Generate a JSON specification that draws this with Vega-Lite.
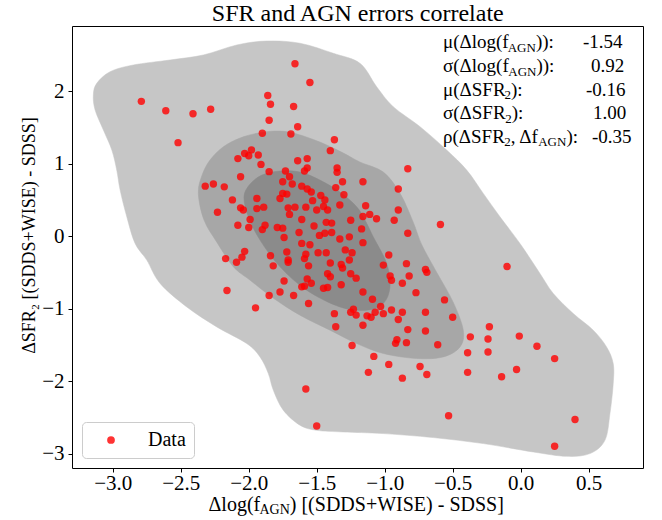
{
"$schema": "https://vega.github.io/schema/vega-lite/v6.json",
"width": 571, "height": 442,
"autosize": {"type": "none"},
"padding": {"left": 72, "top": 26, "right": 19, "bottom": 52},
"background": "white",
"config": {
  "font": "Liberation Serif",
  "view": {"stroke": "black", "strokeWidth": 1},
  "axis": {"grid": false, "domain": false, "tickColor": "black", "tickSize": 4, "tickWidth": 1, "labelFontSize": 21, "labelColor": "black", "labelFont": "Liberation Serif", "titleFont": "Liberation Serif", "titleFontWeight": "normal", "titleColor": "black"},
  "axisX": {"labelPadding": 0},
  "axisY": {"labelPadding": 4}
},
"datasets": {
  "contours": [
    {"level":1,"i":0,"x":-3.143,"y":1.948},{"level":1,"i":1,"x":-3.118,"y":2.109},{"level":1,"i":2,"x":-3.020,"y":2.269},{"level":1,"i":3,"x":-2.849,"y":2.362},{"level":1,"i":4,"x":-2.579,"y":2.431},{"level":1,"i":5,"x":-2.334,"y":2.500},{"level":1,"i":6,"x":-2.088,"y":2.638},{"level":1,"i":7,"x":-1.868,"y":2.693},{"level":1,"i":8,"x":-1.623,"y":2.662},{"level":1,"i":9,"x":-1.378,"y":2.523},{"level":1,"i":10,"x":-1.182,"y":2.385},{"level":1,"i":11,"x":-1.059,"y":2.062},{"level":1,"i":12,"x":-0.937,"y":1.786},{"level":1,"i":13,"x":-0.740,"y":1.510},{"level":1,"i":14,"x":-0.544,"y":1.188},{"level":1,"i":15,"x":-0.397,"y":0.912},{"level":1,"i":16,"x":-0.275,"y":0.590},{"level":1,"i":17,"x":-0.152,"y":0.267},{"level":1,"i":18,"x":-0.005,"y":-0.101},{"level":1,"i":19,"x":0.142,"y":-0.515},{"level":1,"i":20,"x":0.240,"y":-0.791},{"level":1,"i":21,"x":0.387,"y":-1.068},{"level":1,"i":22,"x":0.534,"y":-1.298},{"level":1,"i":23,"x":0.632,"y":-1.529},{"level":1,"i":24,"x":0.681,"y":-1.758},{"level":1,"i":25,"x":0.681,"y":-2.035},{"level":1,"i":26,"x":0.657,"y":-2.449},{"level":1,"i":27,"x":0.620,"y":-2.818},{"level":1,"i":28,"x":0.510,"y":-3.001},{"level":1,"i":29,"x":0.338,"y":-3.039},{"level":1,"i":30,"x":0.093,"y":-2.979},{"level":1,"i":31,"x":-0.275,"y":-2.863},{"level":1,"i":32,"x":-0.643,"y":-2.780},{"level":1,"i":33,"x":-1.010,"y":-2.725},{"level":1,"i":34,"x":-1.304,"y":-2.703},{"level":1,"i":35,"x":-1.500,"y":-2.680},{"level":1,"i":36,"x":-1.623,"y":-2.610},{"level":1,"i":37,"x":-1.746,"y":-2.403},{"level":1,"i":38,"x":-1.819,"y":-2.127},{"level":1,"i":39,"x":-1.856,"y":-1.896},{"level":1,"i":40,"x":-1.917,"y":-1.667},{"level":1,"i":41,"x":-2.015,"y":-1.482},{"level":1,"i":42,"x":-2.235,"y":-1.253},{"level":1,"i":43,"x":-2.456,"y":-0.977},{"level":1,"i":44,"x":-2.652,"y":-0.653},{"level":1,"i":45,"x":-2.750,"y":-0.331},{"level":1,"i":46,"x":-2.836,"y":-0.101},{"level":1,"i":47,"x":-2.897,"y":0.267},{"level":1,"i":48,"x":-2.946,"y":0.635},{"level":1,"i":49,"x":-2.971,"y":0.912},{"level":1,"i":50,"x":-3.007,"y":1.188},{"level":1,"i":51,"x":-3.069,"y":1.464},{"level":1,"i":52,"x":-3.130,"y":1.740},
    {"level":2,"i":0,"x":-2.371,"y":0.590},{"level":2,"i":1,"x":-2.343,"y":0.843},{"level":2,"i":2,"x":-2.285,"y":1.050},{"level":2,"i":3,"x":-2.187,"y":1.233},{"level":2,"i":4,"x":-2.064,"y":1.354},{"level":2,"i":5,"x":-1.941,"y":1.419},{"level":2,"i":6,"x":-1.807,"y":1.450},{"level":2,"i":7,"x":-1.672,"y":1.423},{"level":2,"i":8,"x":-1.476,"y":1.298},{"level":2,"i":9,"x":-1.304,"y":1.146},{"level":2,"i":10,"x":-1.182,"y":1.022},{"level":2,"i":11,"x":-1.010,"y":0.884},{"level":2,"i":12,"x":-0.888,"y":0.594},{"level":2,"i":13,"x":-0.790,"y":0.193},{"level":2,"i":14,"x":-0.726,"y":-0.124},{"level":2,"i":15,"x":-0.618,"y":-0.497},{"level":2,"i":16,"x":-0.496,"y":-0.912},{"level":2,"i":17,"x":-0.422,"y":-1.298},{"level":2,"i":18,"x":-0.446,"y":-1.529},{"level":2,"i":19,"x":-0.569,"y":-1.667},{"level":2,"i":20,"x":-0.765,"y":-1.689},{"level":2,"i":21,"x":-1.010,"y":-1.620},{"level":2,"i":22,"x":-1.206,"y":-1.482},{"level":2,"i":23,"x":-1.402,"y":-1.298},{"level":2,"i":24,"x":-1.623,"y":-1.091},{"level":2,"i":25,"x":-1.819,"y":-0.856},{"level":2,"i":26,"x":-1.990,"y":-0.608},{"level":2,"i":27,"x":-2.113,"y":-0.424},{"level":2,"i":28,"x":-2.235,"y":-0.083},{"level":2,"i":29,"x":-2.329,"y":0.221},
    {"level":3,"i":0,"x":-2.035,"y":0.543},{"level":3,"i":1,"x":-1.990,"y":0.718},{"level":3,"i":2,"x":-1.902,"y":0.843},{"level":3,"i":3,"x":-1.770,"y":0.898},{"level":3,"i":4,"x":-1.623,"y":0.884},{"level":3,"i":5,"x":-1.476,"y":0.773},{"level":3,"i":6,"x":-1.329,"y":0.608},{"level":3,"i":7,"x":-1.206,"y":0.405},{"level":3,"i":8,"x":-1.145,"y":0.221},{"level":3,"i":9,"x":-1.084,"y":-0.010},{"level":3,"i":10,"x":-0.985,"y":-0.377},{"level":3,"i":11,"x":-0.961,"y":-0.700},{"level":3,"i":12,"x":-1.010,"y":-0.930},{"level":3,"i":13,"x":-1.132,"y":-1.022},{"level":3,"i":14,"x":-1.329,"y":-0.977},{"level":3,"i":15,"x":-1.574,"y":-0.746},{"level":3,"i":16,"x":-1.770,"y":-0.424},{"level":3,"i":17,"x":-1.917,"y":-0.055},{"level":3,"i":18,"x":-2.003,"y":0.267}
  ],
  "points": [
    {"x":-1.85,"y":1.60},{"x":-1.64,"y":1.51},{"x":-1.90,"y":1.42},{"x":-1.69,"y":1.41},{"x":-1.37,"y":1.33},{"x":-1.40,"y":1.18},{"x":-2.03,"y":1.14},{"x":-1.98,"y":1.19},{"x":-2.00,"y":1.11},{"x":-1.93,"y":1.12},
    {"x":-2.08,"y":1.07},{"x":-1.64,"y":1.04},{"x":-1.57,"y":1.07},{"x":-1.91,"y":0.99},{"x":-1.85,"y":0.89},{"x":-1.73,"y":0.90},{"x":-1.57,"y":0.94},{"x":-1.59,"y":0.90},{"x":-1.35,"y":0.94},{"x":-1.35,"y":0.88},
    {"x":-1.70,"y":0.82},{"x":-2.06,"y":0.82},{"x":-2.32,"y":0.69},{"x":-2.26,"y":0.72},{"x":-2.18,"y":0.68},{"x":-1.31,"y":0.75},{"x":-1.16,"y":0.75},{"x":-1.75,"y":0.75},{"x":-1.68,"y":0.72},{"x":-1.61,"y":0.69},
    {"x":-1.57,"y":0.65},{"x":-1.36,"y":0.67},{"x":-0.90,"y":0.65},{"x":-1.75,"y":0.59},{"x":-1.72,"y":0.58},{"x":-1.54,"y":0.61},{"x":-1.47,"y":0.56},{"x":-1.30,"y":0.57},{"x":-2.12,"y":0.50},{"x":-1.94,"y":0.52},
    {"x":-1.77,"y":0.52},{"x":-1.53,"y":0.49},{"x":-1.44,"y":0.50},{"x":-2.06,"y":0.39},{"x":-2.04,"y":0.36},{"x":-1.94,"y":0.38},{"x":-1.89,"y":0.40},{"x":-1.71,"y":0.39},{"x":-1.66,"y":0.40},{"x":-1.58,"y":0.40},
    {"x":-1.50,"y":0.36},{"x":-1.45,"y":0.41},{"x":-1.42,"y":0.36},{"x":-1.33,"y":0.43},{"x":-1.14,"y":0.42},{"x":-0.90,"y":0.36},{"x":-2.23,"y":0.33},{"x":-1.70,"y":0.30},{"x":-1.99,"y":0.23},{"x":-2.00,"y":0.12},
    {"x":-2.08,"y":0.15},{"x":-1.88,"y":0.15},{"x":-1.90,"y":0.09},{"x":-1.79,"y":0.12},{"x":-1.75,"y":0.11},{"x":-1.61,"y":0.23},{"x":-1.52,"y":0.14},{"x":-1.43,"y":0.19},{"x":-1.39,"y":0.18},{"x":-1.25,"y":0.22},
    {"x":-1.16,"y":0.27},{"x":-1.11,"y":0.30},{"x":-1.06,"y":0.24},{"x":-0.93,"y":0.22},{"x":-0.59,"y":0.16},{"x":-1.17,"y":0.10},{"x":-1.63,"y":0.05},{"x":-1.48,"y":0.01},{"x":-1.44,"y":0.04},{"x":-1.39,"y":0.05},
    {"x":-1.33,"y":-0.04},{"x":-1.26,"y":-0.01},{"x":-1.16,"y":-0.09},{"x":-0.83,"y":0.04},{"x":-1.74,"y":-0.02},{"x":-1.61,"y":-0.10},{"x":-1.55,"y":-0.12},{"x":-1.49,"y":-0.23},{"x":-1.43,"y":-0.23},{"x":-1.58,"y":-0.25},
    {"x":-1.29,"y":-0.19},{"x":-1.24,"y":-0.23},{"x":-2.17,"y":-0.31},{"x":-2.09,"y":-0.36},{"x":-2.05,"y":-0.29},{"x":-2.03,"y":-0.21},{"x":-1.84,"y":-0.27},{"x":-0.97,"y":-0.26},{"x":-1.82,"y":-0.41},{"x":-1.71,"y":-0.33},
    {"x":-1.71,"y":-0.36},{"x":-1.59,"y":-0.31},{"x":-1.56,"y":-0.41},{"x":-1.40,"y":-0.37},{"x":-1.32,"y":-0.39},{"x":-1.31,"y":-0.44},{"x":-1.26,"y":-0.33},{"x":-1.01,"y":-0.40},{"x":-0.84,"y":-0.38},{"x":-0.70,"y":-0.46},
    {"x":-0.69,"y":-0.50},{"x":-1.74,"y":-0.62},{"x":-1.61,"y":-0.70},{"x":-1.59,"y":-0.69},{"x":-1.57,"y":-0.59},{"x":-1.54,"y":-0.65},{"x":-1.42,"y":-0.52},{"x":-1.40,"y":-0.56},{"x":-1.32,"y":-0.67},{"x":-1.25,"y":-0.52},
    {"x":-1.21,"y":-0.58},{"x":-1.45,"y":-0.72},{"x":-1.42,"y":-0.71},{"x":-1.16,"y":-0.77},{"x":-1.09,"y":-0.87},{"x":-0.96,"y":-0.55},{"x":-0.95,"y":-0.61},{"x":-0.87,"y":-0.65},{"x":-0.82,"y":-0.55},{"x":-0.77,"y":-0.78},
    {"x":-0.56,"y":-0.88},{"x":-2.16,"y":-0.75},{"x":-1.95,"y":-0.99},{"x":-1.85,"y":-0.82},{"x":-1.77,"y":-0.77},{"x":-1.67,"y":-0.82},{"x":-1.56,"y":-0.93},{"x":-1.03,"y":-0.97},{"x":-1.07,"y":-1.05},{"x":-1.01,"y":-1.07},
    {"x":-0.95,"y":-1.02},{"x":-0.87,"y":-1.05},{"x":-0.70,"y":-1.05},{"x":-0.50,"y":-1.12},{"x":-1.37,"y":-1.07},{"x":-1.36,"y":-1.25},{"x":-1.25,"y":-1.05},{"x":-1.23,"y":-1.01},{"x":-1.21,"y":-1.09},{"x":-1.13,"y":-1.10},
    {"x":-1.10,"y":-1.12},{"x":-1.16,"y":-1.23},{"x":-0.90,"y":-1.15},{"x":-0.83,"y":-1.29},{"x":-0.70,"y":-1.31},{"x":-0.91,"y":-1.43},{"x":-0.92,"y":-1.48},{"x":-0.84,"y":-1.47},{"x":-0.61,"y":-1.50},{"x":-1.24,"y":-1.51},
    {"x":-1.08,"y":-1.66},{"x":-0.97,"y":-1.77},{"x":-0.74,"y":-1.80},{"x":-0.37,"y":-1.39},{"x":-0.39,"y":-1.61},{"x":-0.83,"y":0.93},{"x":-1.72,"y":-0.22},
    {"x":-2.79,"y":1.86},{"x":-2.61,"y":1.73},{"x":-2.41,"y":1.69},{"x":-2.28,"y":1.75},{"x":-2.52,"y":1.29},{"x":-1.66,"y":2.38},{"x":-1.55,"y":2.12},{"x":-1.86,"y":1.94},{"x":-1.84,"y":1.82},{"x":-1.67,"y":1.79},
    {"x":-1.58,"y":-2.11},{"x":-1.50,"y":-2.62},{"x":-0.10,"y":-0.42},{"x":-0.23,"y":-1.25},{"x":-0.24,"y":-1.42},{"x":-0.24,"y":-1.60},{"x":-0.01,"y":-1.38},{"x":0.12,"y":-1.52},{"x":0.25,"y":-1.69},{"x":-0.03,"y":-1.84},
    {"x":-0.14,"y":-1.94},{"x":-0.39,"y":-1.88},{"x":-0.69,"y":-1.91},{"x":-0.87,"y":-1.96},{"x":-1.12,"y":-1.88},{"x":-0.53,"y":-2.48},{"x":0.40,"y":-2.53},{"x":0.25,"y":-2.90}
  ],
  "titleText": [
    {"x":-1.198,"y":2.965,"t":"SFR and AGN errors correlate"}
  ],
  "annMain": [
    {"x":-0.571,"y":2.590,"t":"μ(Δlog(f"},{"x":0.1125,"y":2.590,"t":")):"},{"x":0.458,"y":2.590,"t":"-1.54"},
    {"x":-0.571,"y":2.264,"t":"σ(Δlog(f"},{"x":0.116,"y":2.264,"t":")):"},{"x":0.517,"y":2.264,"t":"0.92"},
    {"x":-0.571,"y":1.938,"t":"μ(ΔSFR"},{"x":-0.071,"y":1.938,"t":"):"},{"x":0.480,"y":1.938,"t":"-0.16"},
    {"x":-0.571,"y":1.612,"t":"σ(ΔSFR"},{"x":-0.066,"y":1.612,"t":"):"},{"x":0.532,"y":1.612,"t":"1.00"},
    {"x":-0.571,"y":1.286,"t":"ρ(ΔSFR"},{"x":-0.073,"y":1.286,"t":", Δf"},{"x":0.337,"y":1.286,"t":"):"},{"x":0.524,"y":1.286,"t":"-0.35"}
  ],
  "annSub": [
    {"x":-0.095,"y":2.541,"t":"AGN"},{"x":-0.091,"y":2.215,"t":"AGN"},{"x":-0.118,"y":1.890,"t":"2"},{"x":-0.114,"y":1.564,"t":"2"},{"x":-0.121,"y":1.238,"t":"2"},{"x":0.129,"y":1.238,"t":"AGN"}
  ],
  "xtMain": [
    {"x":-2.296,"y":-3.791,"t":"Δlog(f"},{"x":-1.698,"y":-3.791,"t":") [(SDDS+WISE) - SDSS]"}
  ],
  "xtSub": [
    {"x":-1.921,"y":-3.840,"t":"AGN"}
  ]
},
"encoding": {
  "x": {"field": "x", "type": "quantitative", "scale": {"domain": [-3.3, 0.9], "nice": false, "zero": false}, "axis": {"values": [-3,-2.5,-2,-1.5,-1,-0.5,0,0.5], "format": ".1f", "title": null}},
  "y": {"field": "y", "type": "quantitative", "scale": {"domain": [-3.2, 2.9], "nice": false, "zero": false}, "axis": {"values": [-3,-2,-1,0,1,2], "format": "d", "title": "ΔSFR₂ [(SDDS+WISE) - SDSS]", "titleX": -38, "titleY": 209, "titleAngle": -90, "titleAlign": "center", "titleBaseline": "alphabetic", "titleFontSize": 18}}
},
"layer": [
  {"data": {"name": "contours"}, "transform": [{"filter": "datum.level == 1"}], "mark": {"type": "line", "interpolate": "cardinal-closed", "fill": "#c6c6c6", "stroke": "#c6c6c6", "strokeWidth": 0.5}, "encoding": {"order": {"field": "i", "type": "quantitative"}}},
  {"data": {"name": "contours"}, "transform": [{"filter": "datum.level == 2"}], "mark": {"type": "line", "interpolate": "cardinal-closed", "fill": "#a7a7a7", "stroke": "#a7a7a7", "strokeWidth": 0.5}, "encoding": {"order": {"field": "i", "type": "quantitative"}}},
  {"data": {"name": "contours"}, "transform": [{"filter": "datum.level == 3"}], "mark": {"type": "line", "interpolate": "cardinal-closed", "fill": "#8b8b8b", "stroke": "#8b8b8b", "strokeWidth": 0.5}, "encoding": {"order": {"field": "i", "type": "quantitative"}}},
  {"data": {"name": "points"}, "mark": {"type": "circle", "size": 55, "opacity": 0.8},
   "encoding": {"color": {"datum": "Data", "type": "nominal", "scale": {"range": ["#ff0000"]},
     "legend": {"title": null, "orient": "bottom-left", "offset": 10, "padding": 8, "strokeColor": "#cccccc", "fillColor": "rgba(255,255,255,0.8)", "cornerRadius": 4, "symbolType": "circle", "symbolSize": 60, "symbolOpacity": 0.8, "symbolStrokeWidth": 0, "symbolOffset": 11, "labelOffset": 27, "labelFontSize": 20, "labelFont": "Liberation Serif", "labelColor": "black"}}}},
  {"data": {"name": "titleText"}, "mark": {"type": "text", "align": "center", "baseline": "alphabetic", "fontSize": 24, "font": "Liberation Serif", "color": "black"}, "encoding": {"text": {"field": "t"}}},
  {"data": {"name": "annMain"}, "mark": {"type": "text", "align": "left", "baseline": "alphabetic", "fontSize": 19, "font": "Liberation Serif", "color": "black"}, "encoding": {"text": {"field": "t"}}},
  {"data": {"name": "annSub"}, "mark": {"type": "text", "align": "left", "baseline": "alphabetic", "fontSize": 13, "font": "Liberation Serif", "color": "black"}, "encoding": {"text": {"field": "t"}}},
  {"data": {"name": "xtMain"}, "mark": {"type": "text", "align": "left", "baseline": "alphabetic", "fontSize": 20, "font": "Liberation Serif", "color": "black"}, "encoding": {"text": {"field": "t"}}},
  {"data": {"name": "xtSub"}, "mark": {"type": "text", "align": "left", "baseline": "alphabetic", "fontSize": 14, "font": "Liberation Serif", "color": "black"}, "encoding": {"text": {"field": "t"}}}
]
}
